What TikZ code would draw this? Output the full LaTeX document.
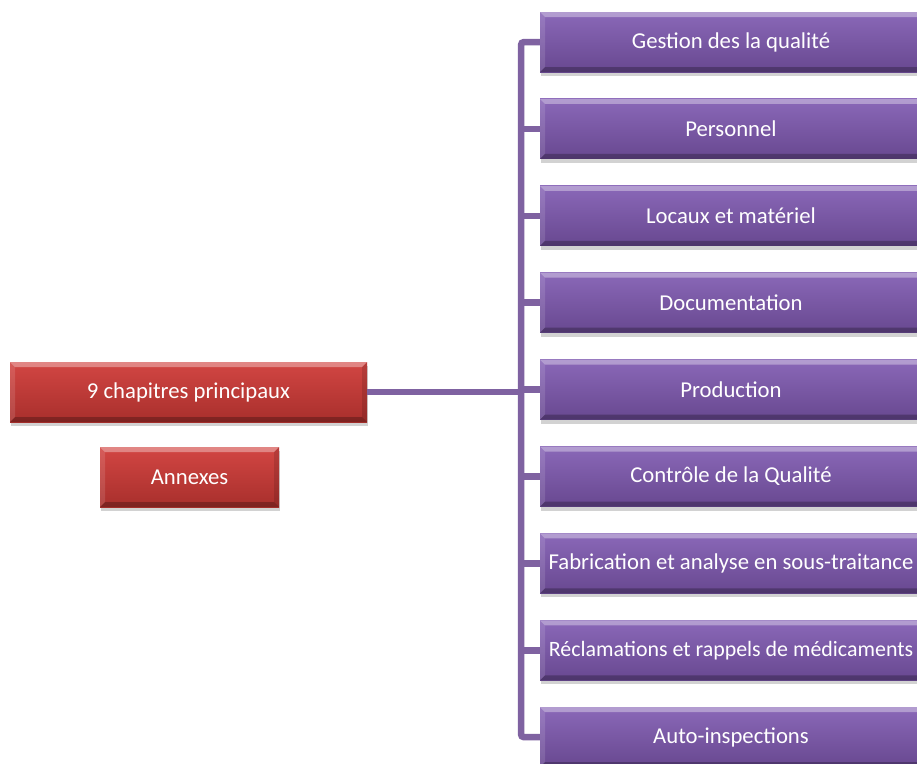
\documentclass[tikz,border=0pt]{standalone}
\usepackage{fontspec}
\setmainfont{Carlito}
\usetikzlibrary{shadows,calc}
\definecolor{pTop}{HTML}{8A68B8}
\definecolor{pBot}{HTML}{684890}
\definecolor{rTop}{HTML}{D24643}
\definecolor{rBot}{HTML}{A82F2C}
\definecolor{lineP}{HTML}{7F62A1}
\newcommand\bevelfx{%
  \fill[white,opacity=0.35] (path picture bounding box.north west) -- (path picture bounding box.north east) -- ([xshift=-5pt,yshift=-5pt]path picture bounding box.north east) -- ([xshift=5pt,yshift=-5pt]path picture bounding box.north west) -- cycle;
  \fill[white,opacity=0.12] (path picture bounding box.north west) -- ([xshift=5pt,yshift=-5pt]path picture bounding box.north west) -- ([xshift=5pt,yshift=5pt]path picture bounding box.south west) -- (path picture bounding box.south west) -- cycle;
  \fill[black,opacity=0.25] (path picture bounding box.south west) -- (path picture bounding box.south east) -- ([xshift=-5pt,yshift=5pt]path picture bounding box.south east) -- ([xshift=5pt,yshift=5pt]path picture bounding box.south west) -- cycle;
  \fill[black,opacity=0.12] (path picture bounding box.north east) -- ([xshift=-5pt,yshift=-5pt]path picture bounding box.north east) -- ([xshift=-5pt,yshift=5pt]path picture bounding box.south east) -- (path picture bounding box.south east) -- cycle;
}
\tikzset{
  boxbase/.style={rectangle, minimum height=60pt, inner sep=0pt, text=white,
    font=\fontsize{22.7}{26}\selectfont,
    drop shadow={shadow xshift=1pt, shadow yshift=-4pt, opacity=0.35},
    path picture={\bevelfx}},
  pbox/.style={boxbase, minimum width=382pt, top color=pTop, bottom color=pBot},
  rbox/.style={boxbase, top color=rTop, bottom color=rBot},
  conn/.style={draw=lineP, line width=6.5pt}
}
\begin{document}
\begin{tikzpicture}[x=1pt,y=-1pt]
\clip (0,0) rectangle (917,763);
\fill[white] (0,0) rectangle (917,763);
\node[pbox] (g1) at (731,42.0) {Gestion des la qualité};
\node[pbox] (g2) at (731,128.9) {Personnel};
\node[pbox] (g3) at (731,215.8) {Locaux et matériel};
\node[pbox] (g4) at (731,302.7) {Documentation};
\node[pbox] (g5) at (731,389.6) {Production};
\node[pbox] (g6) at (731,476.5) {Contrôle de la Qualité};
\node[pbox] (g7) at (731,563.4) {Fabrication et analyse en sous-traitance};
\node[pbox, font=\fontsize{21.9}{26}\selectfont] (g8) at (731,650.3) {Réclamations et rappels de médicaments};
\node[pbox] (g9) at (731,737.2) {Auto-inspections};
\node[rbox, minimum width=357pt] (ch) at (188.5,392) {9 chapitres principaux};
\node[rbox, minimum width=179pt] (an) at (189.5,477) {Annexes};
\coordinate (bus) at (521,0);
\draw[conn, rounded corners=3pt] (g1.west) -- (g1.west -| bus) -- (g9.west -| bus) -- (g9.west);
\foreach \n in {g2,g3,g4,g5,g6,g7,g8}
  \draw[conn] (\n.west -| bus) -- (\n.west);
\draw[conn] (ch.east) -- (ch.east -| bus);
\end{tikzpicture}
\end{document}
